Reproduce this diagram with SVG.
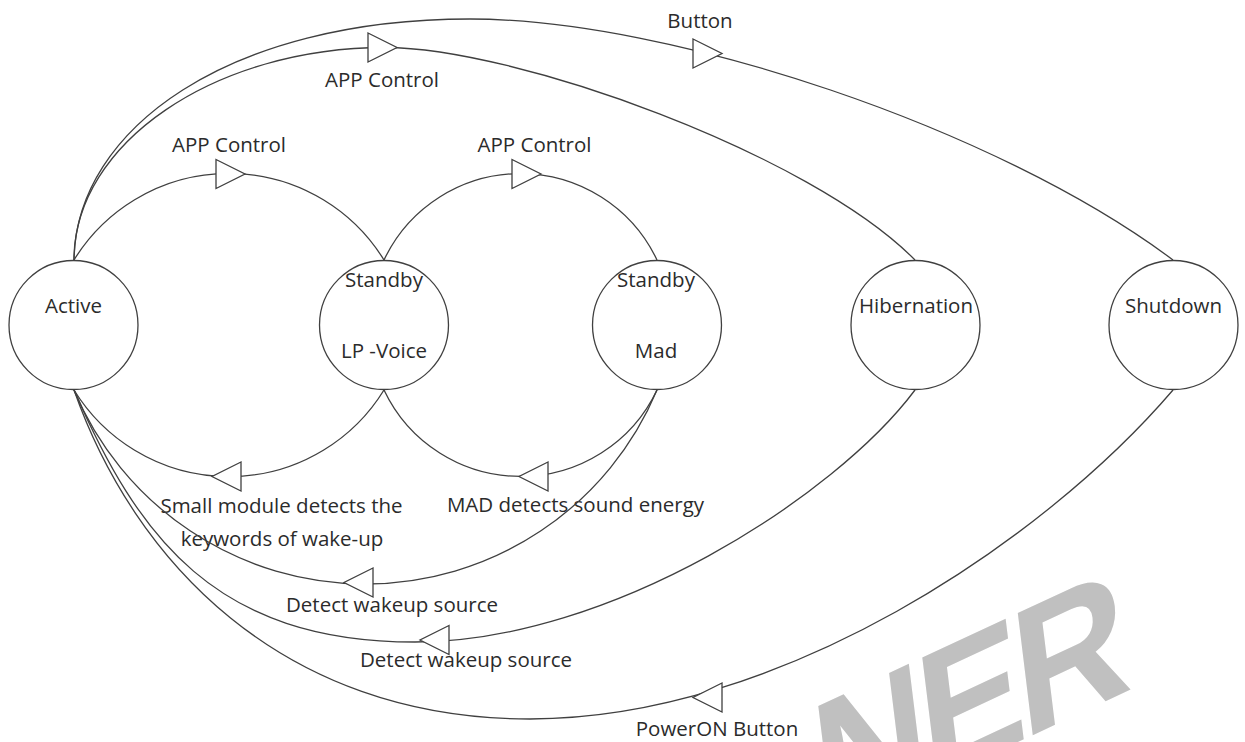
<svg xmlns="http://www.w3.org/2000/svg" xmlns:xlink="http://www.w3.org/1999/xlink" width="1245" height="742" viewBox="0 0 1245 742">
  <style>
    .node { fill: #ffffff; stroke: #404040; stroke-width: 1.3; }
    .edge { fill: none; stroke: #404040; stroke-width: 1.3; }
    .head { fill: #ffffff; stroke: #404040; stroke-width: 1.3; stroke-linejoin: miter; }
    .lbl { font-family: "Open Sans", "Noto Sans", "Liberation Sans", sans-serif; font-size: 20.5px; fill: #2b2b2b; text-anchor: middle; }
    .mark { font-family: "Liberation Sans", Arial, sans-serif; font-weight: bold; font-size: 170px; fill: #c0c0c0; letter-spacing: -8px; }
  </style>
  <defs>
    <!-- open triangle heads, origin at the middle of the base -->
    <path id="headRight" class="head" d="M0,-14.5 L29,0 L0,14.5 Z"/>
    <path id="headLeft" class="head" d="M0,-14.5 L-29,0 L0,14.5 Z"/>
  </defs>

  <rect width="1245" height="742" fill="#ffffff"/>

  <!-- faint stamp in the lower right corner -->
  <text class="mark" transform="translate(823,833) rotate(-25) skewX(-18)">NER</text>

  <g id="connectors">
    <!-- Active -> Shutdown -->
    <g id="edge-active-shutdown">
      <path class="edge" d="M74,260 C76,128 230,19 470,19 C670,19 997,128 1173,260"/>
      <use xlink:href="#headRight" x="693" y="53.5"/>
      <text class="lbl" x="700" y="28">Button</text>
    </g>
    <!-- Active -> Hibernation -->
    <g id="edge-active-hibernation">
      <path class="edge" d="M74,260 C74,143 215,47.5 385,47.5 C515,47.5 810,153.5 915,260"/>
      <use xlink:href="#headRight" x="368" y="47.5"/>
      <text class="lbl" x="382" y="87">APP Control</text>
    </g>
    <!-- Active -> Standby LP-Voice -->
    <g id="edge-active-lpvoice">
      <path class="edge" d="M74,260 A182,182 0 0 1 384,260"/>
      <use xlink:href="#headRight" x="216" y="174"/>
      <text class="lbl" x="229" y="152">APP Control</text>
    </g>
    <!-- Standby LP-Voice -> Standby Mad -->
    <g id="edge-lpvoice-mad">
      <path class="edge" d="M384,260 A151,151 0 0 1 657,260"/>
      <use xlink:href="#headRight" x="512" y="174"/>
      <text class="lbl" x="534.5" y="152">APP Control</text>
    </g>
    <!-- Standby LP-Voice -> Active -->
    <g id="edge-lpvoice-active">
      <path class="edge" d="M384,390 A182,182 0 0 1 74,390"/>
      <use xlink:href="#headLeft" x="241" y="476.5"/>
      <text class="lbl" x="281.5" y="513">Small module detects the</text>
      <text class="lbl" x="282" y="546">keywords of wake-up</text>
    </g>
    <!-- Standby Mad -> Standby LP-Voice -->
    <g id="edge-mad-lpvoice">
      <path class="edge" d="M657,390 A151,151 0 0 1 384,390"/>
      <use xlink:href="#headLeft" x="548" y="476.5"/>
      <text class="lbl" x="575.5" y="512">MAD detects sound energy</text>
    </g>
    <!-- Standby Mad -> Active -->
    <g id="edge-mad-active">
      <path class="edge" d="M657,390 A316,316 0 0 1 74,390"/>
      <use xlink:href="#headLeft" x="373" y="582.5"/>
      <text class="lbl" x="392" y="612">Detect wakeup source</text>
    </g>
    <!-- Hibernation -> Active -->
    <g id="edge-hibernation-active">
      <path class="edge" d="M915,390 C835,497 610,642 415,642 C215,642 138,537 74,390"/>
      <use xlink:href="#headLeft" x="449" y="640"/>
      <text class="lbl" x="466" y="667">Detect wakeup source</text>
    </g>
    <!-- Shutdown -> Active -->
    <g id="edge-shutdown-active">
      <path class="edge" d="M1173,390 C1043,542 780,719 530,719 C280,719 133.4,559.2 74,390"/>
      <use xlink:href="#headLeft" x="722" y="697.5"/>
      <text class="lbl" x="717" y="736">PowerON Button</text>
    </g>
  </g>

  <g id="node-active">
    <circle class="node" cx="73.5" cy="325" r="64.5"/>
    <text class="lbl" x="73.5" y="313">Active</text>
  </g>
  <g id="node-standby-lpvoice">
    <circle class="node" cx="384" cy="325" r="64.5"/>
    <text class="lbl" x="384" y="287">Standby</text>
    <text class="lbl" x="384" y="358">LP -Voice</text>
  </g>
  <g id="node-standby-mad">
    <circle class="node" cx="657" cy="325" r="64.5"/>
    <text class="lbl" x="656" y="287">Standby</text>
    <text class="lbl" x="656" y="358">Mad</text>
  </g>
  <g id="node-hibernation">
    <circle class="node" cx="915.5" cy="325" r="64.5"/>
    <text class="lbl" x="916" y="313">Hibernation</text>
  </g>
  <g id="node-shutdown">
    <circle class="node" cx="1173.5" cy="325" r="64.5"/>
    <text class="lbl" x="1173.5" y="313">Shutdown</text>
  </g>
</svg>
